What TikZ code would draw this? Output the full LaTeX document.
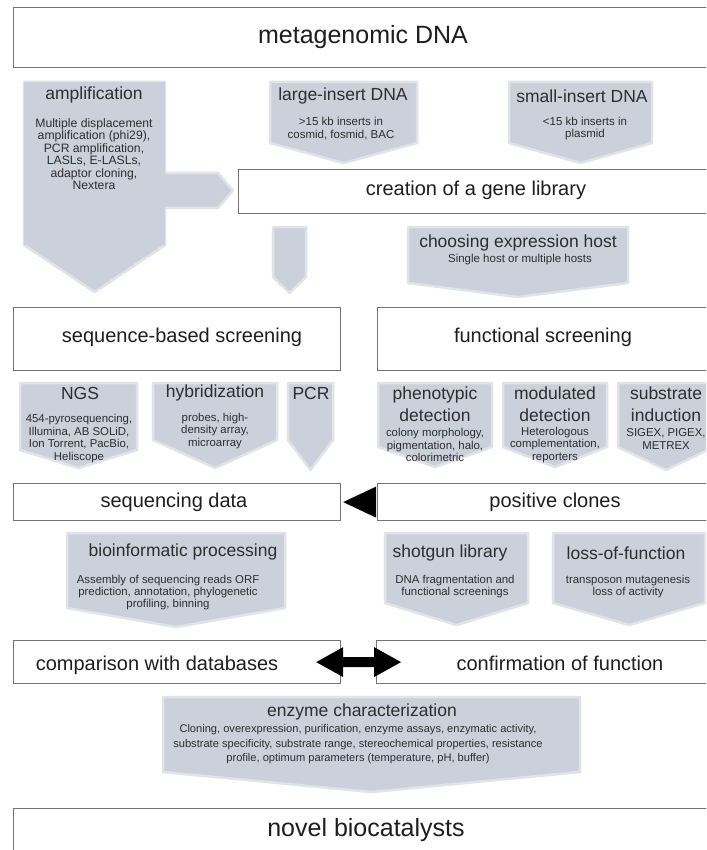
\documentclass[tikz,border=0pt]{standalone}
\usepackage{fontspec}
\setmainfont{Liberation Sans}
\usetikzlibrary{calc}
\definecolor{gfill}{RGB}{204,208,218}
\definecolor{gsoft}{RGB}{224,227,233}
\definecolor{bline}{RGB}{115,115,115}
\definecolor{tdark}{RGB}{30,30,30}
\definecolor{tgray}{RGB}{45,45,50}
\newcommand{\gchev}[5]{%
  \path[gsh] (#1,#3) -- (#2,#3) -- (#2,#4) -- ({(#1+#2)/2},#5) -- (#1,#4) -- cycle;}
\tikzset{
  gsh/.style={fill=gfill, draw=gsoft, line width=2.5pt, line join=round},
  boxn/.style={draw=bline, line width=1.2pt, fill=white, inner sep=0pt, anchor=north west},
  bigt/.style={font=\fontsize{25}{29}\selectfont, text=tdark},
  midt/.style={font=\fontsize{20}{24}\selectfont, text=tdark},
  ttl/.style={font=\fontsize{17.5}{21.5}\selectfont, text=tgray, align=center, inner sep=0pt},
  bdy/.style={font=\fontsize{11.5}{12.6}\selectfont, text=tgray, align=center, inner sep=0pt},
  sbdy/.style={font=\fontsize{11.4}{12.4}\selectfont, text=tgray, align=center, inner sep=0pt},
}
\begin{document}
\begin{tikzpicture}[x=1pt,y=-1pt]
\useasboundingbox (0,0) rectangle (706,850);
\clip (0,0) rectangle (706,850);
\fill[white] (0,0) rectangle (706,850);

% ---------- boxes ----------
\node[boxn, minimum width=699pt, minimum height=60pt] (meta) at (13,7) {};
\node[bigt] (metaT) at (363,37) {metagenomic DNA};

% ---------- gray shapes top row ----------
\gchev{24}{165}{82}{245}{292}
\path[gsh] (160,173) -- (218,173) -- (233,190.5) -- (218,208) -- (160,208) -- cycle;
\fill[gfill] (24,82) rectangle (165,245);
\gchev{270}{417}{82}{143}{163}
\gchev{509}{652}{82}{143}{163}

\node[ttl] (ampT) at (94,95) {amplification};
\node[bdy, font=\fontsize{12.2}{12.5}\selectfont] (ampB) at (94,154) {Multiple displacement\\amplification (phi29),\\PCR amplification,\\LASLs, E-LASLs,\\adaptor cloning,\\Nextera};
\node[ttl] (largeT) at (343,96) {large-insert DNA};
\node[bdy] (largeB) at (341,128.5) {>15 kb inserts in\\cosmid, fosmid, BAC};
\node[ttl] (smallT) at (582,96) {small-insert DNA};
\node[bdy] (smallB) at (585,128.5) {<15 kb inserts in\\plasmid};

\node[boxn, minimum width=474pt, minimum height=44pt] (crea) at (238,169) {};
\node[midt] (creaT) at (476,190) {creation of a gene library};

\gchev{273}{306}{227}{277}{293}
\gchev{408}{628}{227}{283}{297}
\node[ttl] (hostT) at (518,243) {choosing expression host};
\node[bdy] (hostB) at (520,260) {Single host or multiple hosts};

% ---------- screening ----------
\node[boxn, minimum width=327pt, minimum height=63pt] (seqs) at (13,307) {};
\node[midt] (seqsT) at (182,337) {sequence-based screening};
\node[boxn, minimum width=335pt, minimum height=63pt] (funs) at (377,307) {};
\node[midt] (funsT) at (543,337) {functional screening};

\gchev{20}{137}{383}{450}{468}
\gchev{153}{277}{383}{440}{468}
\gchev{288}{333}{383}{440}{470}
\gchev{378}{492}{383}{447}{467}
\gchev{503}{607}{383}{447}{467}
\gchev{618}{714}{383}{447}{470}

\node[ttl] (ngsT) at (80,393) {NGS};
\node[sbdy] (ngsB) at (79,438.5) {454-pyrosequencing,\\Illumina, AB SOLiD,\\Ion Torrent, PacBio,\\Heliscope};
\node[ttl] (hybT) at (215,393) {hybridization};
\node[sbdy] (hybB) at (215,431) {probes, high-\\density array,\\microarray};
\node[ttl] (pcrT) at (311,393) {PCR};
\node[ttl] (phenT) at (435,404) {phenotypic\\detection};
\node[sbdy] (phenB) at (435,445) {colony morphology,\\pigmentation, halo,\\colorimetric};
\node[ttl] (modT) at (555,404) {modulated\\detection};
\node[sbdy] (modB) at (555,445) {Heterologous\\complementation,\\reporters};
\node[ttl] (subT) at (666,404) {substrate\\induction};
\node[sbdy] (subB) at (666,439) {SIGEX, PIGEX,\\METREX};

% ---------- data / clones ----------
\node[boxn, minimum width=327pt, minimum height=37pt] (seqd) at (13,483) {};
\node[midt] (seqdT) at (174,502) {sequencing data};
\node[boxn, minimum width=335pt, minimum height=37pt] (posc) at (377,483) {};
\node[midt] (poscT) at (555,502) {positive clones};
\fill[black] ($(seqd.east)+(2,0)$) -- ($(posc.west)+(-1,-15.5)$) -- ($(posc.west)+(-1,15.5)$) -- cycle;

\gchev{67}{285}{533}{608}{627}
\gchev{385}{528}{533}{603}{625}
\gchev{553}{705}{533}{603}{625}
\node[ttl] (bioT) at (183,552) {bioinformatic processing};
\node[sbdy] (bioB) at (168,592.5) {Assembly of sequencing reads ORF\\prediction, annotation, phylogenetic\\profiling, binning};
\node[ttl] (shotT) at (450,553) {shotgun library};
\node[sbdy] (shotB) at (455,586.5) {DNA fragmentation and\\functional screenings};
\node[ttl] (lossT) at (626,553) {loss-of-function};
\node[sbdy] (lossB) at (628,586.5) {transposon mutagenesis\\loss of activity};

% ---------- comparison / confirmation ----------
\node[boxn, minimum width=327pt, minimum height=43pt] (comp) at (13,640) {};
\node[midt] (compT) at (157,665) {comparison with databases};
\node[boxn, minimum width=336pt, minimum height=43pt] (conf) at (376,640) {};
\node[midt] (confT) at (560,663) {confirmation of function};
\coordinate (dL) at ($(comp.east)+(-25,0)$);
\coordinate (dR) at ($(conf.west)+(25,0)$);
\fill[black] (dL) -- ++(27,-15) -- ++(0,10) -- ($(dR)+(-27,-5)$) -- ++(0,-10) -- (dR) -- ++(-27,15) -- ++(0,-10) -- ($(dL)+(27,5)$) -- ++(0,10) -- cycle;

% ---------- enzyme characterization ----------
\gchev{163}{580}{697}{772}{792}
\node[ttl] (enzT) at (362,712) {enzyme characterization};
\node[sbdy, font=\fontsize{11.1}{14.5}\selectfont] (enzB) at (358,744.5) {Cloning, overexpression, purification, enzyme assays, enzymatic activity,\\substrate specificity, substrate range, stereochemical properties, resistance\\profile, optimum parameters (temperature, pH, buffer)};

\node[boxn, minimum width=699pt, minimum height=60pt] (novel) at (13,808) {};
\node[bigt] (novelT) at (366,830) {novel biocatalysts};
\end{tikzpicture}
\end{document}
